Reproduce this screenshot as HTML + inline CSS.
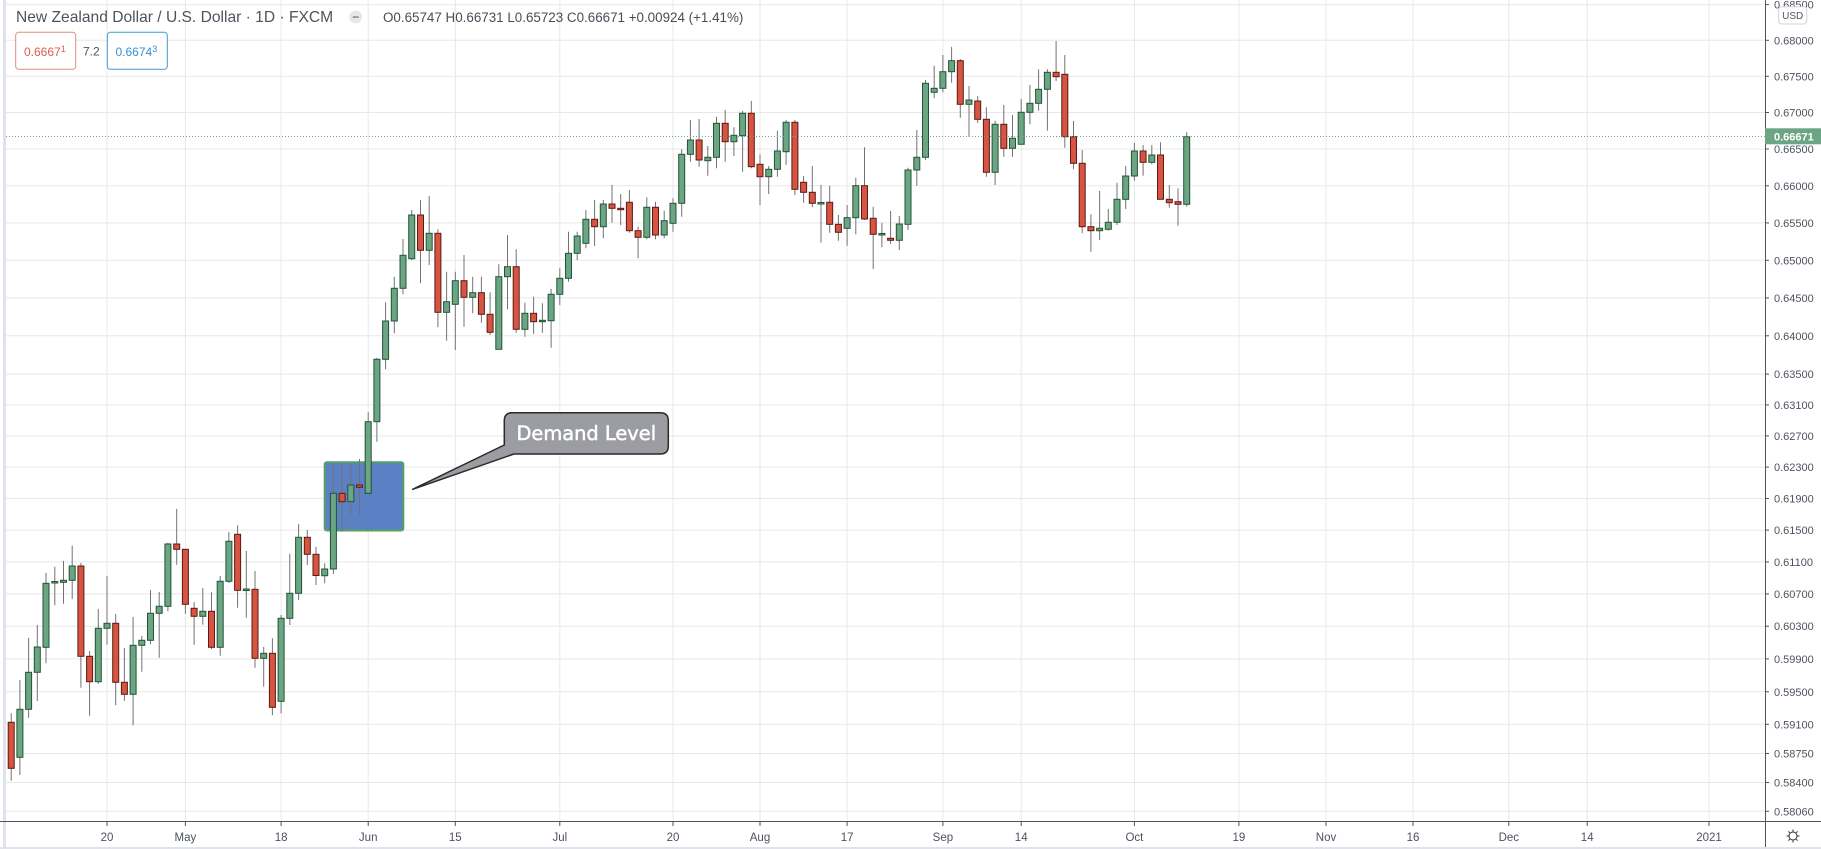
<!DOCTYPE html>
<html>
<head>
<meta charset="utf-8">
<style>
html,body{margin:0;padding:0;background:#fff;}
svg{display:block;}
.g{fill:#6ba583;stroke:#225437;stroke-width:1;}
.r{fill:#d75442;stroke:#5b1a13;stroke-width:1;}
.pl{font-family:"Liberation Sans",sans-serif;font-size:11px;fill:#4c525e;}
.tl{font-family:"Liberation Sans",sans-serif;font-size:11.5px;fill:#4c525e;text-anchor:middle;}
</style>
</head>
<body>
<svg width="1821" height="849" viewBox="0 0 1821 849" xmlns="http://www.w3.org/2000/svg">
<rect x="0" y="0" width="1821" height="849" fill="#ffffff"/>
<rect x="3" y="0" width="3" height="849" fill="#e0e3eb"/>

<g stroke="#e8e8ea" stroke-width="1">
<line x1="6" x2="1765" y1="4.6" y2="4.6"/>
<line x1="6" x2="1765" y1="40.3" y2="40.3"/>
<line x1="6" x2="1765" y1="76.3" y2="76.3"/>
<line x1="6" x2="1765" y1="112.5" y2="112.5"/>
<line x1="6" x2="1765" y1="149" y2="149"/>
<line x1="6" x2="1765" y1="185.8" y2="185.8"/>
<line x1="6" x2="1765" y1="222.9" y2="222.9"/>
<line x1="6" x2="1765" y1="260.3" y2="260.3"/>
<line x1="6" x2="1765" y1="297.9" y2="297.9"/>
<line x1="6" x2="1765" y1="335.8" y2="335.8"/>
<line x1="6" x2="1765" y1="374.1" y2="374.1"/>
<line x1="6" x2="1765" y1="404.9" y2="404.9"/>
<line x1="6" x2="1765" y1="435.9" y2="435.9"/>
<line x1="6" x2="1765" y1="467.1" y2="467.1"/>
<line x1="6" x2="1765" y1="498.5" y2="498.5"/>
<line x1="6" x2="1765" y1="530.1" y2="530.1"/>
<line x1="6" x2="1765" y1="561.9" y2="561.9"/>
<line x1="6" x2="1765" y1="593.9" y2="593.9"/>
<line x1="6" x2="1765" y1="626.2" y2="626.2"/>
<line x1="6" x2="1765" y1="658.9" y2="658.9"/>
<line x1="6" x2="1765" y1="691.8" y2="691.8"/>
<line x1="6" x2="1765" y1="724.3" y2="724.3"/>
<line x1="6" x2="1765" y1="753.5" y2="753.5"/>
<line x1="6" x2="1765" y1="782.5" y2="782.5"/>
<line x1="6" x2="1765" y1="811.3" y2="811.3"/>
</g>
<g stroke="#e8e8ea" stroke-width="1">
<line x1="107" x2="107" y1="0" y2="821"/>
<line x1="185.4" x2="185.4" y1="0" y2="821"/>
<line x1="281.1" x2="281.1" y1="0" y2="821"/>
<line x1="368.2" x2="368.2" y1="0" y2="821"/>
<line x1="455.3" x2="455.3" y1="0" y2="821"/>
<line x1="559.8" x2="559.8" y1="0" y2="821"/>
<line x1="673" x2="673" y1="0" y2="821"/>
<line x1="760" x2="760" y1="0" y2="821"/>
<line x1="847.1" x2="847.1" y1="0" y2="821"/>
<line x1="942.9" x2="942.9" y1="0" y2="821"/>
<line x1="1021.2" x2="1021.2" y1="0" y2="821"/>
<line x1="1134.4" x2="1134.4" y1="0" y2="821"/>
<line x1="1238.9" x2="1238.9" y1="0" y2="821"/>
<line x1="1326" x2="1326" y1="0" y2="821"/>
<line x1="1413" x2="1413" y1="0" y2="821"/>
<line x1="1508.8" x2="1508.8" y1="0" y2="821"/>
<line x1="1587.2" x2="1587.2" y1="0" y2="821"/>
<line x1="1709" x2="1709" y1="0" y2="821"/>
</g>

<rect x="324.7" y="462.3" width="78.6" height="68.2" rx="2" fill="#5b80c3" stroke="#55a064" stroke-width="2"/>

<path fill="none" stroke="#737375" stroke-width="1" d="M11.2 713.3V780.7M19.9 680V775M28.6 637.7V717.7M37.3 625V701M46 572.7V663.3M54.8 566.7V605.3M63.5 561V603.7M72.2 545.7V599M80.9 563V687.7M89.6 651V715.7M98.3 609V683.7M107 576V644.7M115.7 614V705.3M124.4 648V700.7M133.1 617V725.3M141.8 636V671.7M150.5 590V644.3M159.2 592V657.7M167.9 542.7V611.3M176.7 509V564.7M185.4 549.3V613.7M194.1 602V644.7M202.8 588V624.7M211.5 592.3V649M220.2 576V655.7M228.9 532V583M237.6 525.3V607.7M246.3 551V617.7M255 571V667.7M263.7 647V686.7M272.4 638.3V715.3M281.1 615V713.3M289.8 553.7V625M298.6 524V600M307.3 530V565M316 546.7V585M324.7 563.3V583.3M333.4 463V574M342.1 463.3V531.7M350.8 463V515M359.5 459V515M368.2 412.3V493.3M376.9 357.7V441.7M385.6 302.3V369.3M394.3 276.7V333.3M403 239V294.3M411.7 210V260M420.5 200V283.3M429.2 196V265M437.9 229.3V327.3M446.6 271.7V340.7M455.3 271.7V350M464 255V326.7M472.7 276.7V313.3M481.4 276.7V322.7M490.1 292.3V335M498.8 264.3V349.3M507.5 235V309.3M516.2 249.3V332.7M524.9 302.7V336.7M533.6 296.7V334M542.4 303.3V332.7M551.1 289V347.7M559.8 268.3V305M568.5 231.7V281.7M577.2 231.7V260M585.9 210V248.3M594.6 200V246M603.3 200V238.3M612 185V222.7M620.7 194V225M629.4 190V232.7M638.1 226.7V258.3M646.8 197.3V239.3M655.5 201.7V239.3M664.2 210.7V238.3M673 198.3V231.7M681.7 149.3V216.7M690.4 120V161.7M699.1 119V166.7M707.8 146V175.7M716.5 116.7V168.3M725.2 110V161.7M733.9 127.3V156M742.6 111V171.7M751.3 101V168.3M760 154.3V205M768.7 166V194M777.4 130.7V176.7M786.1 120V165M794.9 120V195M803.6 176V202.7M812.3 166V207.3M821 185V242.7M829.7 185.7V232.7M838.4 215V240.7M847.1 205V245.7M855.8 177.7V234.3M864.5 147.3V220M873.2 206.7V269M881.9 222.7V247.3M890.6 211V244M899.3 216V250M908 167.7V230M916.8 130V185.7M925.5 80V160M934.2 65.7V98.3M942.9 55V92.3M951.6 46.7V82.7M960.3 59V117.7M969 86V136.7M977.7 96V123M986.4 107.3V176.7M995.1 120.7V185M1003.8 105V156.7M1012.5 115V156.7M1021.2 99V144.3M1029.9 85V124.3M1038.6 69.3V110.7M1047.4 69.3V130.7M1056.1 41V81M1064.8 55V147.7M1073.5 121V169.3M1082.2 150V233.3M1090.9 214.3V251.7M1099.6 191V240M1108.3 209V230.7M1117 182.7V225M1125.7 166V209M1134.4 142.7V180.7M1143.1 145V175.7M1151.8 145V164.3M1160.5 142.3V199.3M1169.3 185V207.7M1178 188.3V225.7M1186.7 132.3V206.7"/>

<g>
<rect class="r" x="8.2" y="722.3" width="6" height="46"/>
<rect class="g" x="16.9" y="709.3" width="6" height="48"/>
<rect class="g" x="25.6" y="672.3" width="6" height="37"/>
<rect class="g" x="34.3" y="647" width="6" height="25.3"/>
<rect class="g" x="43" y="583.3" width="6" height="64"/>
<rect class="g" x="51.8" y="581.5" width="6" height="1.5"/>
<rect class="g" x="60.5" y="580.3" width="6" height="2"/>
<rect class="g" x="69.2" y="566" width="6" height="14.3"/>
<rect class="r" x="77.9" y="566" width="6" height="90.3"/>
<rect class="r" x="86.6" y="656.3" width="6" height="25.4"/>
<rect class="g" x="95.3" y="628.3" width="6" height="53.4"/>
<rect class="g" x="104" y="623.3" width="6" height="5"/>
<rect class="r" x="112.7" y="623.3" width="6" height="59"/>
<rect class="r" x="121.4" y="682.3" width="6" height="12"/>
<rect class="g" x="130.1" y="645.3" width="6" height="49"/>
<rect class="g" x="138.8" y="640.3" width="6" height="5"/>
<rect class="g" x="147.5" y="613.3" width="6" height="27"/>
<rect class="g" x="156.2" y="606.3" width="6" height="7"/>
<rect class="g" x="164.9" y="544" width="6" height="62.3"/>
<rect class="r" x="173.7" y="544" width="6" height="5.3"/>
<rect class="r" x="182.4" y="549.3" width="6" height="55"/>
<rect class="r" x="191.1" y="608.3" width="6" height="8"/>
<rect class="g" x="199.8" y="611.3" width="6" height="5"/>
<rect class="r" x="208.5" y="611.3" width="6" height="36"/>
<rect class="g" x="217.2" y="581.3" width="6" height="66"/>
<rect class="g" x="225.9" y="541.3" width="6" height="40"/>
<rect class="r" x="234.6" y="534.3" width="6" height="56"/>
<rect class="g" x="243.3" y="589" width="6" height="1.5"/>
<rect class="r" x="252" y="589.3" width="6" height="69"/>
<rect class="g" x="260.7" y="653.3" width="6" height="5"/>
<rect class="r" x="269.4" y="653.3" width="6" height="54"/>
<rect class="g" x="278.1" y="618.3" width="6" height="83"/>
<rect class="g" x="286.8" y="593.3" width="6" height="25"/>
<rect class="g" x="295.6" y="537.3" width="6" height="56"/>
<rect class="r" x="304.3" y="537.3" width="6" height="17"/>
<rect class="r" x="313" y="554.3" width="6" height="21.2"/>
<rect class="g" x="321.7" y="569" width="6" height="6.7"/>
<rect class="g" x="330.4" y="493.3" width="6" height="75.7"/>
<rect class="r" x="339.1" y="493.3" width="6" height="8.4"/>
<rect class="g" x="347.8" y="485" width="6" height="16.7"/>
<rect class="r" x="356.5" y="485" width="6" height="2.3"/>
<rect class="g" x="365.2" y="421.7" width="6" height="71.6"/>
<rect class="g" x="373.9" y="359.3" width="6" height="62.4"/>
<rect class="g" x="382.6" y="321" width="6" height="38.3"/>
<rect class="g" x="391.3" y="288.3" width="6" height="32.7"/>
<rect class="g" x="400" y="255.3" width="6" height="33"/>
<rect class="g" x="408.7" y="215" width="6" height="43.7"/>
<rect class="r" x="417.5" y="215" width="6" height="35.3"/>
<rect class="g" x="426.2" y="233.3" width="6" height="17"/>
<rect class="r" x="434.9" y="233.3" width="6" height="79"/>
<rect class="g" x="443.6" y="301.7" width="6" height="10.6"/>
<rect class="g" x="452.3" y="280.7" width="6" height="23.6"/>
<rect class="r" x="461" y="280.7" width="6" height="16.6"/>
<rect class="g" x="469.7" y="292.7" width="6" height="4.6"/>
<rect class="r" x="478.4" y="292.7" width="6" height="21.6"/>
<rect class="r" x="487.1" y="314.3" width="6" height="18"/>
<rect class="g" x="495.8" y="276.7" width="6" height="72.6"/>
<rect class="g" x="504.5" y="266.7" width="6" height="10"/>
<rect class="r" x="513.2" y="266.7" width="6" height="62.6"/>
<rect class="g" x="521.9" y="313.3" width="6" height="16"/>
<rect class="r" x="530.6" y="313.3" width="6" height="8.4"/>
<rect class="g" x="539.4" y="320.3" width="6" height="1.4"/>
<rect class="g" x="548.1" y="294.3" width="6" height="26.4"/>
<rect class="g" x="556.8" y="278.3" width="6" height="16"/>
<rect class="g" x="565.5" y="253.3" width="6" height="25"/>
<rect class="g" x="574.2" y="236" width="6" height="17.3"/>
<rect class="g" x="582.9" y="219.3" width="6" height="24"/>
<rect class="r" x="591.6" y="219.3" width="6" height="7.4"/>
<rect class="g" x="600.3" y="204" width="6" height="22.7"/>
<rect class="r" x="609" y="204" width="6" height="4.3"/>
<rect class="r" x="617.7" y="208.3" width="6" height="1.4"/>
<rect class="r" x="626.4" y="202.3" width="6" height="28.4"/>
<rect class="r" x="635.1" y="230.7" width="6" height="6.6"/>
<rect class="g" x="643.8" y="207.3" width="6" height="30"/>
<rect class="r" x="652.5" y="207.3" width="6" height="27.7"/>
<rect class="g" x="661.2" y="220.7" width="6" height="14.3"/>
<rect class="g" x="670" y="203.3" width="6" height="20"/>
<rect class="g" x="678.7" y="154.3" width="6" height="49"/>
<rect class="g" x="687.4" y="140" width="6" height="14.3"/>
<rect class="r" x="696.1" y="140" width="6" height="20"/>
<rect class="g" x="704.8" y="157.3" width="6" height="3.4"/>
<rect class="g" x="713.5" y="123.3" width="6" height="34"/>
<rect class="r" x="722.2" y="123.3" width="6" height="18.4"/>
<rect class="g" x="730.9" y="135.3" width="6" height="6.4"/>
<rect class="g" x="739.6" y="113.3" width="6" height="22.4"/>
<rect class="r" x="748.3" y="113.3" width="6" height="53.4"/>
<rect class="r" x="757" y="164.3" width="6" height="12.4"/>
<rect class="g" x="765.7" y="169.3" width="6" height="7.4"/>
<rect class="g" x="774.4" y="151" width="6" height="18.3"/>
<rect class="g" x="783.1" y="122.3" width="6" height="29.4"/>
<rect class="r" x="791.9" y="122.3" width="6" height="67"/>
<rect class="r" x="800.6" y="182.3" width="6" height="10"/>
<rect class="r" x="809.3" y="192.3" width="6" height="11"/>
<rect class="g" x="818" y="202.5" width="6" height="1.5"/>
<rect class="r" x="826.7" y="202.3" width="6" height="22"/>
<rect class="r" x="835.4" y="224.3" width="6" height="8"/>
<rect class="g" x="844.1" y="217.7" width="6" height="10.6"/>
<rect class="g" x="852.8" y="185.7" width="6" height="32"/>
<rect class="r" x="861.5" y="185.7" width="6" height="33.3"/>
<rect class="r" x="870.2" y="218.3" width="6" height="16"/>
<rect class="g" x="878.9" y="233.5" width="6" height="1.5"/>
<rect class="r" x="887.6" y="238.3" width="6" height="2"/>
<rect class="g" x="896.3" y="224" width="6" height="16.3"/>
<rect class="g" x="905" y="170" width="6" height="54.3"/>
<rect class="g" x="913.8" y="157.3" width="6" height="12.7"/>
<rect class="g" x="922.5" y="83.3" width="6" height="74"/>
<rect class="g" x="931.2" y="88.3" width="6" height="4"/>
<rect class="g" x="939.9" y="71.7" width="6" height="16.6"/>
<rect class="g" x="948.6" y="60.7" width="6" height="11"/>
<rect class="r" x="957.3" y="60.7" width="6" height="43.6"/>
<rect class="g" x="966" y="100" width="6" height="4.3"/>
<rect class="r" x="974.7" y="101" width="6" height="18.3"/>
<rect class="r" x="983.4" y="119.3" width="6" height="53"/>
<rect class="g" x="992.1" y="124.3" width="6" height="48"/>
<rect class="r" x="1000.8" y="124.3" width="6" height="24"/>
<rect class="g" x="1009.5" y="138.3" width="6" height="10"/>
<rect class="g" x="1018.2" y="112.3" width="6" height="32"/>
<rect class="g" x="1026.9" y="103.3" width="6" height="9"/>
<rect class="g" x="1035.6" y="89.3" width="6" height="14"/>
<rect class="g" x="1044.4" y="72.3" width="6" height="17"/>
<rect class="r" x="1053.1" y="72.3" width="6" height="4.4"/>
<rect class="r" x="1061.8" y="74.3" width="6" height="62.4"/>
<rect class="r" x="1070.5" y="136.7" width="6" height="26.6"/>
<rect class="r" x="1079.2" y="163.3" width="6" height="63.4"/>
<rect class="r" x="1087.9" y="226.7" width="6" height="4"/>
<rect class="g" x="1096.6" y="228.3" width="6" height="2.4"/>
<rect class="g" x="1105.3" y="222.3" width="6" height="7"/>
<rect class="g" x="1114" y="199.3" width="6" height="23"/>
<rect class="g" x="1122.7" y="176" width="6" height="23.3"/>
<rect class="g" x="1131.4" y="151" width="6" height="25"/>
<rect class="r" x="1140.1" y="151" width="6" height="11.3"/>
<rect class="g" x="1148.8" y="155" width="6" height="7.3"/>
<rect class="r" x="1157.5" y="155" width="6" height="44.3"/>
<rect class="r" x="1166.3" y="199.3" width="6" height="3.4"/>
<rect class="r" x="1175" y="201.7" width="6" height="2.6"/>
<rect class="g" x="1183.7" y="136.7" width="6" height="67.6"/>
</g>

<line x1="6" x2="1765" y1="136.5" y2="136.5" stroke="#6ba583" stroke-width="1" stroke-dasharray="1 2"/>

<path d="M512.3 412.7H660.3Q668.3 412.7 668.3 420.7V446Q668.3 454 660.3 454H514L412.7 489.3L504.3 445V420.7Q504.3 412.7 512.3 412.7Z" fill="#9c9da2" stroke="#2a2a2a" stroke-width="1.5" stroke-linejoin="round"/>
<text x="586.3" y="440" text-anchor="middle" font-family="DejaVu Sans, Liberation Sans, sans-serif" font-size="19.4" fill="#ffffff" stroke="#ffffff" stroke-width="0.5">Demand Level</text>

<line x1="1765.5" x2="1765.5" y1="0" y2="849" stroke="#50535e" stroke-width="1"/>
<line x1="0" x2="1821" y1="821.5" y2="821.5" stroke="#50535e" stroke-width="1"/>
<rect x="0" y="847" width="1821" height="2" fill="#e0e3eb"/>

<g stroke="#50535e" stroke-width="1">
<line x1="1765" x2="1769" y1="4.6" y2="4.6"/>
<line x1="1765" x2="1769" y1="40.3" y2="40.3"/>
<line x1="1765" x2="1769" y1="76.3" y2="76.3"/>
<line x1="1765" x2="1769" y1="112.5" y2="112.5"/>
<line x1="1765" x2="1769" y1="149" y2="149"/>
<line x1="1765" x2="1769" y1="185.8" y2="185.8"/>
<line x1="1765" x2="1769" y1="222.9" y2="222.9"/>
<line x1="1765" x2="1769" y1="260.3" y2="260.3"/>
<line x1="1765" x2="1769" y1="297.9" y2="297.9"/>
<line x1="1765" x2="1769" y1="335.8" y2="335.8"/>
<line x1="1765" x2="1769" y1="374.1" y2="374.1"/>
<line x1="1765" x2="1769" y1="404.9" y2="404.9"/>
<line x1="1765" x2="1769" y1="435.9" y2="435.9"/>
<line x1="1765" x2="1769" y1="467.1" y2="467.1"/>
<line x1="1765" x2="1769" y1="498.5" y2="498.5"/>
<line x1="1765" x2="1769" y1="530.1" y2="530.1"/>
<line x1="1765" x2="1769" y1="561.9" y2="561.9"/>
<line x1="1765" x2="1769" y1="593.9" y2="593.9"/>
<line x1="1765" x2="1769" y1="626.2" y2="626.2"/>
<line x1="1765" x2="1769" y1="658.9" y2="658.9"/>
<line x1="1765" x2="1769" y1="691.8" y2="691.8"/>
<line x1="1765" x2="1769" y1="724.3" y2="724.3"/>
<line x1="1765" x2="1769" y1="753.5" y2="753.5"/>
<line x1="1765" x2="1769" y1="782.5" y2="782.5"/>
<line x1="1765" x2="1769" y1="811.3" y2="811.3"/>
</g>
<g class="pl">
<text x="1774" y="8.6">0.68500</text>
<text x="1774" y="44.3">0.68000</text>
<text x="1774" y="80.3">0.67500</text>
<text x="1774" y="116.5">0.67000</text>
<text x="1774" y="153">0.66500</text>
<text x="1774" y="189.8">0.66000</text>
<text x="1774" y="226.9">0.65500</text>
<text x="1774" y="264.3">0.65000</text>
<text x="1774" y="301.9">0.64500</text>
<text x="1774" y="339.8">0.64000</text>
<text x="1774" y="378.1">0.63500</text>
<text x="1774" y="408.9">0.63100</text>
<text x="1774" y="439.9">0.62700</text>
<text x="1774" y="471.1">0.62300</text>
<text x="1774" y="502.5">0.61900</text>
<text x="1774" y="534.1">0.61500</text>
<text x="1774" y="565.9">0.61100</text>
<text x="1774" y="597.9">0.60700</text>
<text x="1774" y="630.2">0.60300</text>
<text x="1774" y="662.9">0.59900</text>
<text x="1774" y="695.8">0.59500</text>
<text x="1774" y="728.3">0.59100</text>
<text x="1774" y="757.5">0.58750</text>
<text x="1774" y="786.5">0.58400</text>
<text x="1774" y="815.3">0.58060</text>
</g>

<rect x="1778.7" y="6.7" width="28" height="17.3" rx="3" fill="#ffffff" stroke="#d0d3db" stroke-width="1"/>
<text x="1792.7" y="19" text-anchor="middle" font-family="Liberation Sans, sans-serif" font-size="10" fill="#555">USD</text>

<rect x="1765" y="128.3" width="56" height="16" fill="#6ba583"/>
<text x="1774" y="140.3" font-family="Liberation Sans, sans-serif" font-size="11" font-weight="bold" fill="#ffffff">0.66671</text>

<g stroke="#50535e" stroke-width="1">
<line x1="107" x2="107" y1="822" y2="826"/>
<line x1="185.4" x2="185.4" y1="822" y2="826"/>
<line x1="281.1" x2="281.1" y1="822" y2="826"/>
<line x1="368.2" x2="368.2" y1="822" y2="826"/>
<line x1="455.3" x2="455.3" y1="822" y2="826"/>
<line x1="559.8" x2="559.8" y1="822" y2="826"/>
<line x1="673" x2="673" y1="822" y2="826"/>
<line x1="760" x2="760" y1="822" y2="826"/>
<line x1="847.1" x2="847.1" y1="822" y2="826"/>
<line x1="942.9" x2="942.9" y1="822" y2="826"/>
<line x1="1021.2" x2="1021.2" y1="822" y2="826"/>
<line x1="1134.4" x2="1134.4" y1="822" y2="826"/>
<line x1="1238.9" x2="1238.9" y1="822" y2="826"/>
<line x1="1326" x2="1326" y1="822" y2="826"/>
<line x1="1413" x2="1413" y1="822" y2="826"/>
<line x1="1508.8" x2="1508.8" y1="822" y2="826"/>
<line x1="1587.2" x2="1587.2" y1="822" y2="826"/>
<line x1="1709" x2="1709" y1="822" y2="826"/>
</g>
<g class="tl">
<text x="107" y="841">20</text>
<text x="185.4" y="841">May</text>
<text x="281.1" y="841">18</text>
<text x="368.2" y="841">Jun</text>
<text x="455.3" y="841">15</text>
<text x="559.8" y="841">Jul</text>
<text x="673" y="841">20</text>
<text x="760" y="841">Aug</text>
<text x="847.1" y="841">17</text>
<text x="942.9" y="841">Sep</text>
<text x="1021.2" y="841">14</text>
<text x="1134.4" y="841">Oct</text>
<text x="1238.9" y="841">19</text>
<text x="1326" y="841">Nov</text>
<text x="1413" y="841">16</text>
<text x="1508.8" y="841">Dec</text>
<text x="1587.2" y="841">14</text>
<text x="1709" y="841">2021</text>
</g>

<g stroke="#333" stroke-width="1" fill="none">
<circle cx="1793" cy="836" r="4"/>
<line x1="1793" y1="829.5" x2="1793" y2="831.5"/>
<line x1="1793" y1="840.5" x2="1793" y2="842.5"/>
<line x1="1786.5" y1="836" x2="1788.5" y2="836"/>
<line x1="1797.5" y1="836" x2="1799.5" y2="836"/>
<line x1="1788.4" y1="831.4" x2="1789.8" y2="832.8"/>
<line x1="1796.2" y1="839.2" x2="1797.6" y2="840.6"/>
<line x1="1797.6" y1="831.4" x2="1796.2" y2="832.8"/>
<line x1="1789.8" y1="839.2" x2="1788.4" y2="840.6"/>
</g>

<text x="16" y="22" font-family="Liberation Sans, sans-serif" font-size="15.6" fill="#50535e">New Zealand Dollar / U.S. Dollar · 1D · FXCM</text>
<circle cx="355.7" cy="17" r="6.5" fill="#e6e7ea"/>
<rect x="352.7" y="16.3" width="6" height="1.6" fill="#8a8d96"/>
<text x="383" y="22" font-family="Liberation Sans, sans-serif" font-size="13.4" fill="#4a4d57">O0.65747 H0.66731 L0.65723 C0.66671 +0.00924 (+1.41%)</text>

<rect x="15.7" y="32.3" width="60" height="37" rx="3" fill="#ffffff" stroke="#e08a84" stroke-width="1"/>
<text x="24" y="56" font-family="Liberation Sans, sans-serif" font-size="12" fill="#d9604f">0.6667<tspan font-size="9" dy="-4">1</tspan></text>
<text x="83" y="55.5" font-family="Liberation Sans, sans-serif" font-size="12" fill="#50535e">7.2</text>
<rect x="107.3" y="32.3" width="60" height="37" rx="3" fill="#ffffff" stroke="#3d9bd0" stroke-width="1"/>
<text x="115.5" y="56" font-family="Liberation Sans, sans-serif" font-size="12" fill="#3a8fcc">0.6674<tspan font-size="9" dy="-4">3</tspan></text>
</svg>
</body>
</html>
